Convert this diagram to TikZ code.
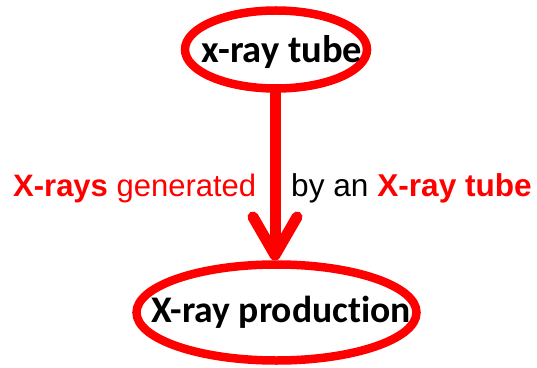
\documentclass[tikz,border=0pt]{standalone}
\usepackage{fontspec}
\setmainfont{Carlito}[Ligatures=NoCommon]
\newfontfamily\arialfont{Liberation Sans}
\usetikzlibrary{arrows.meta,shapes.geometric}
\definecolor{pred}{RGB}{255,0,0}
\tikzset{
  oval/.style={draw=pred, line width=8.5pt, ellipse, inner sep=0pt, outer sep=0pt},
  nodetext/.style={font=\bfseries\fontsize{38}{44}\selectfont, inner sep=0pt, anchor=base},
  conn/.style={draw=pred, line width=11pt, -{Straight Barb[length=38pt, width=44pt, round]}},
  lbl/.style={font=\arialfont\fontsize{31}{36}\selectfont, inner sep=0pt}
}
\begin{document}
\begin{tikzpicture}[x=1pt,y=1pt]
\useasboundingbox (0,0) rectangle (537,367);
\node[oval, minimum width=182pt, minimum height=78pt] (tube) at (276,317.5) {};
\node[nodetext, font=\bfseries\fontsize{38.5}{44}\selectfont] (tubetext) at (282,304) {x-ray tube};
\node[oval, minimum width=280pt, minimum height=96pt] (prod) at (276.5,54.5) {};
\node[nodetext, font=\bfseries\fontsize{37.6}{44}\selectfont] (prodtext) at (281,45) {X-ray production};
\draw[conn] (tube.south -| 275,0) -- ([yshift=4pt]prod.north -| 275,0);
\node[lbl, anchor=base west] (left) at (13,171) {\textcolor{pred}{\textbf{X-rays} generated}};
\node[lbl, anchor=base west, font=\arialfont\fontsize{31.6}{36}\selectfont] (right) at (291,171) {by an \textcolor{pred}{\textbf{X-ray tube}}};
\end{tikzpicture}
\end{document}
